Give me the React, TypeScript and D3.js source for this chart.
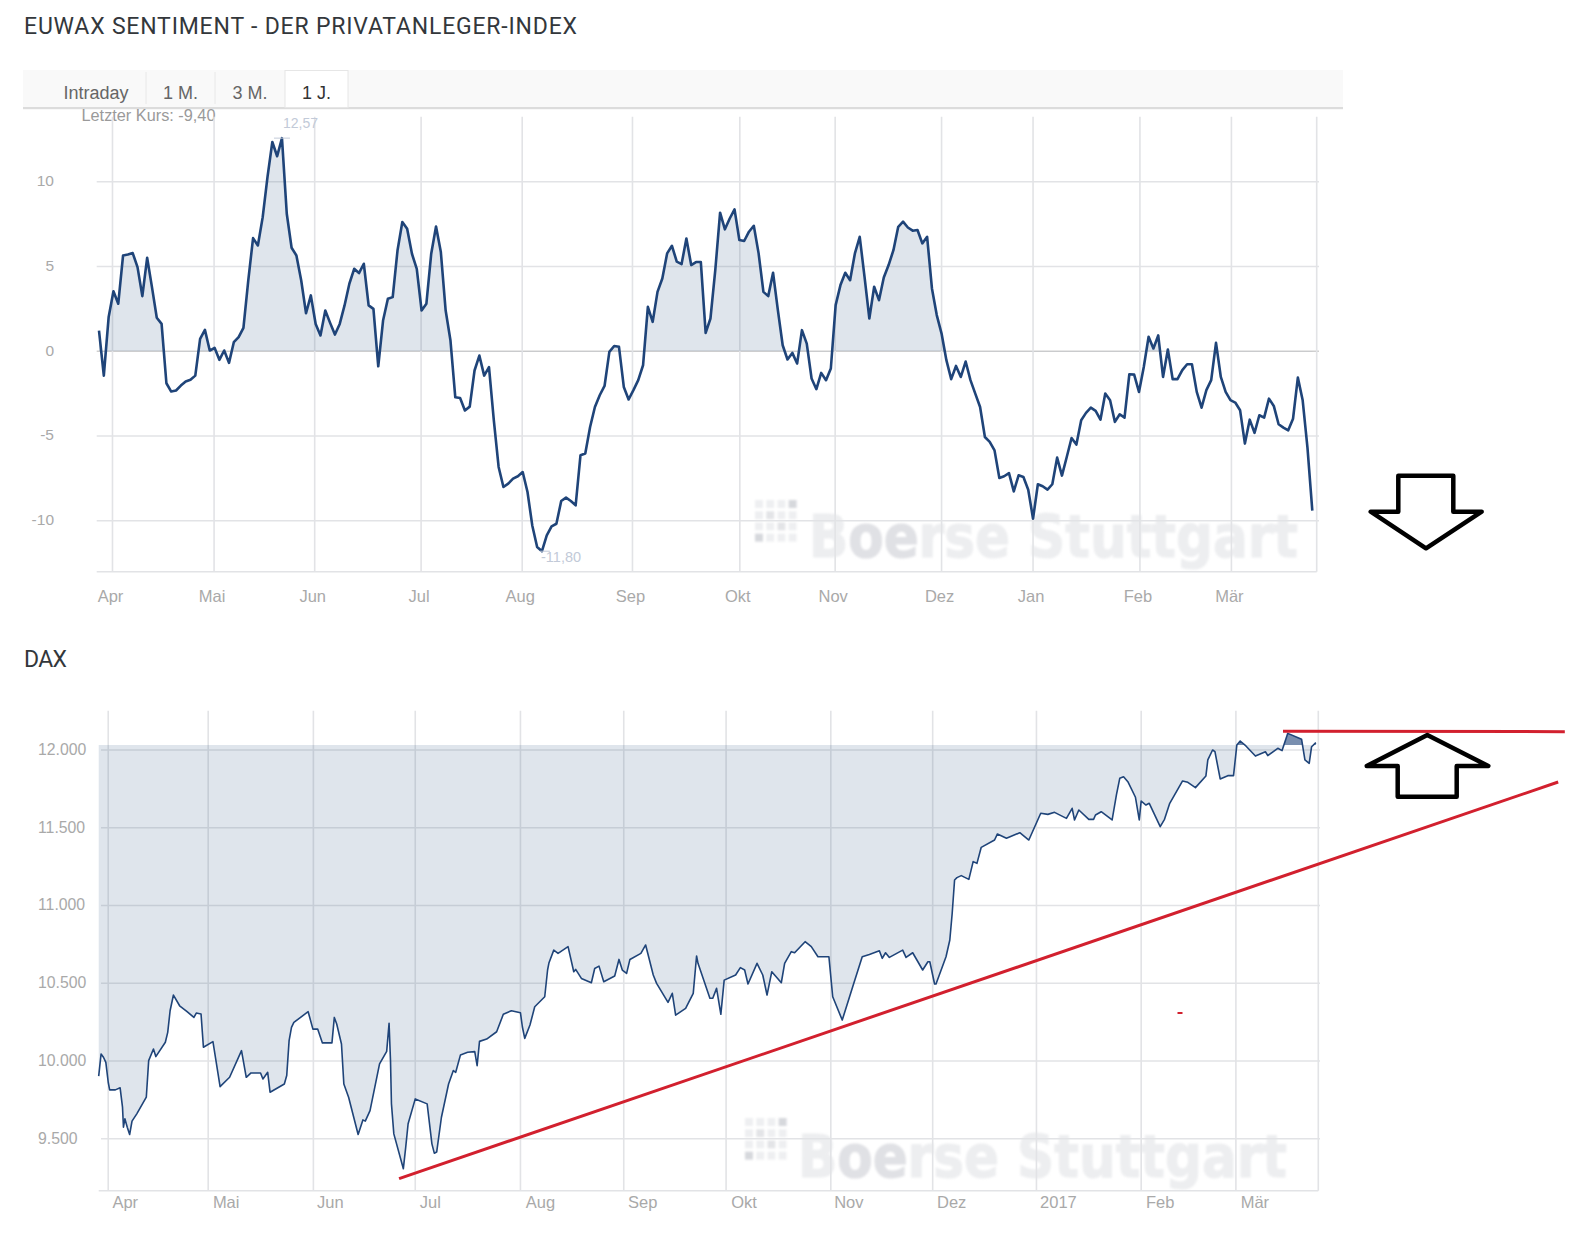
import React from "react";
import * as d3 from "d3";

// ---------- EUWAX Sentiment: one value per trading day ----------
const sentimentValues = [
  1.22,-1.44,2.0,3.54,2.8,5.65,5.7,5.79,4.96,3.25,5.51,3.78,1.97,1.61,-1.89,-2.38,-2.32,-2.03,-1.79,-1.69,
  -1.44,0.73,1.26,0.04,0.2,-0.51,0.04,-0.69,0.53,0.83,1.38,4.17,6.67,6.24,7.91,10.28,12.34,11.5,12.57,8.11,
  6.1,5.65,4.17,2.24,3.29,1.61,0.93,2.4,1.67,0.98,1.61,2.7,3.98,4.86,4.61,5.16,2.7,2.5,-0.89,1.81,
  3.09,3.19,5.94,7.62,7.22,5.75,4.86,2.4,2.8,5.75,7.36,5.85,2.4,0.63,-2.72,-2.76,-3.5,-3.27,-1.14,-0.26,
  -1.44,-0.94,
  -4.07,-6.83,-8.01,-7.81,-7.52,-7.38,-7.13,-8.31,-10.3,-11.55,-11.8,-10.87,-10.33,-10.18,-8.84,-8.64,-8.84,-9.09,
  -6.14,-6.04,-4.47,-3.29,-2.6,-2.05,-0.04,0.31,0.26,-2.11,-2.85,-2.3,-1.71,-0.83,2.62,1.73,3.5,4.29,5.77,6.22,
  5.28,5.14,6.65,5.08,5.26,5.26,1.08,1.93,4.78,8.17,7.19,7.83,8.37,6.56,6.5,7.05,7.4,5.77,3.5,3.25,
  4.63,2.42,0.35,-0.49,-0.1,-0.73,1.24,0.45,-1.61,-2.24,-1.28,-1.71,-1.02,2.72,3.9,4.63,4.19,5.77,6.75,4.39,
  1.93,3.8,3.01,
  4.35,5.08,5.96,7.34,7.64,7.3,7.11,7.15,6.36,6.75,3.7,2.13,1.04,-0.53,-1.65,-0.87,-1.52,-0.61,-1.71,-2.5,
  -3.29,-5.06,-5.35,-5.85,-7.48,-7.38,-7.19,-8.27,-7.32,-7.42,-8.17,-9.88,-7.85,-7.97,-8.17,-7.85,-6.28,-7.34,-6.24,-5.12,
  -5.51,-4.07,-3.64,-3.33,-3.52,-4.04,-2.5,-2.89,-4.17,-3.72,-3.92,-1.36,-1.38,-2.4,-0.93,0.85,0.16,0.93,-1.52,0.1,
  -1.65,-1.65,-1.12,-0.77,-0.77,-2.4,-3.33,-2.3,-1.71,0.49,-1.52,-2.4,-2.89,-3.03,-3.48,-5.45,-4.04,-4.82,-3.78,-3.92,
  -2.8,-3.23,-4.31,-4.51,-4.67,-3.98,-1.56,-2.9,-5.7,-9.4,
];
const sentimentMonthLabels = ["Apr","Mai","Jun","Jul","Aug","Sep","Okt","Nov","Dez","Jan","Feb","Mär"];
const sentimentMonthDays = [2.8,23.9,44.8,66.9,87.9,110.8,133.1,152.9,175,194,216.2,235.2];
const sentimentTicks = [10,5,0,-5,-10];

// ---------- DAX: trading-day position and close ----------
const daxDays = [
  0,0.5,1,1.5,2,2.3,3.5,4.5,5,5.2,5.5,6,6.5,7,8,10,10.5,11.5,12,14,14.5,15,15.7,17,18.5,20,20.5,21.5,22,24,25.5,27.5,30,31,32,34,34.5,35.5,36,39,39.5,40,40.5,41,44,45,46,47,49,49.5,50,51,51.5,52.5,54.5,55.5,56,57,59,60.5,61,61.3,61.5,62,64,64.5,65,66.5,69,70,70.5,71,72,73.5,74.5,75,76,77.5,79,79.5,80,81.5,83.6,
  85,86.7,88.6,89,89.5,90.6,91.6,93.7,94.3,94.6,95.6,96.5,98.6,99.8,100.2,101.4,103.5,104.2,105.1,106.1,108.4,109.3,110,110.9,111.6,113.9,114.9,116.5,117.2,119.6,120.5,121.2,123.3,124.9,125.6,125.9,128.4,129,129.8,130.7,131.4,133.8,134.8,135.7,136.4,138.3,139.5,140.4,141.4,143.4,144.1,145.5,146.2,148.4,149.7,151.1,153.4,154.2,156.2,158.4,160.4,161.9,164,164.6,165.3,166.1,168.9,169.6,171,173.1,174.2,174.6,175.6,175.9,178,178.8,179.3,
  179.8,180.3,181.2,182.8,183.7,184.5,185.4,188.2,188.8,190.7,193.5,195.4,197.9,199.4,200.8,203.3,204.5,205,205.9,208,209,209.4,210.6,212.9,213.8,214.5,215.3,216.2,217.8,218.6,219,220,220.7,223,223.9,225,227.7,228.8,230.4,232.6,233,234,234.5,235.6,237.2,238.4,239.1,239.8,241,243,245.1,245.6,247.7,248.6,249.8,
  252.7,253.4,254.3,254.8,255.7,
];
const daxValues = [
  9902,10045,10024,9991,9863,9814,9814,9827,9703,9574,9628,9574,9527,9613,9660,9767,10002,10077,10028,10120,10184,10323,10424,10355,10319,10280,10308,10302,10088,10124,9835,9895,10066,9895,9923,9923,9884,9927,9799,9852,9906,10131,10216,10248,10317,10205,10205,10116,10116,10280,10238,10109,9852,9767,9527,9621,9613,9681,9981,10062,10242,10002,9724,9531,9307,9446,9596,9756,9724,9467,9407,9414,9638,9852,9938,9927,10039,10056,10060,9970,10126,10141,10188,
  10300,10323,10310,10220,10145,10231,10349,10413,10585,10632,10713,10692,10735,10574,10589,10531,10503,10595,10610,10510,10546,10653,10585,10563,10653,10692,10746,10553,10499,10377,10435,10295,10338,10435,10675,10628,10403,10403,10467,10300,10520,10553,10600,10585,10495,10628,10553,10424,10574,10503,10628,10703,10696,10767,10735,10670,10670,10413,10263,10478,10670,10685,10709,10660,10696,10666,10713,10666,10696,10585,10638,10638,10495,10495,10670,10778,10950,
  11164,11179,11192,11168,11282,11271,11374,11421,11460,11432,11468,11421,11593,11586,11599,11560,11625,11550,11614,11554,11554,11582,11603,11550,11711,11818,11828,11796,11696,11550,11672,11646,11657,11507,11554,11657,11801,11792,11758,11833,11936,12000,11989,11814,11835,11835,12032,12058,12026,11961,11989,11964,12011,11996,12107,
  12069,11936,11914,12021,12047,
];
const daxMonthLabels = ["Apr","Mai","Jun","Jul","Aug","Sep","Okt","Nov","Dez","2017","Feb","Mär"];
const daxMonthDays = [2,23,45.1,66.5,88.6,110.3,131.8,153.8,175.2,197,219,238.9];
const daxLabelOffsets = [17,18,17,15,20,19,18,18,19,22,19,19];
const daxTicks = [12000,11500,11000,10500,10000,9500];
const daxThreshold = 12032;
const trendDays = [63.1,306.6];
const trendValues = [9243,11794];
const resistanceDays = [248.8,308];
const resistanceValues = [12120,12118];

const tabs = ["Intraday","1 M.","3 M.","1 J."];

const lineColor = "#1f4479";
const gridColor = "#e2e3e6";
const labelColor = "#a9a9a9";
const sans = "'Liberation Sans', Arial, sans-serif";
const red = "#d2202e";

const dotShades = [
  [0,0,0,2],
  [0,1,0,0],
  [0,0,1,0],
  [2,0,0,0],
];

function Watermark({ id, dotX, dotY, textX, baseline }: any) {
  const shade = ["#eeeff1", "#e3e4e7", "#d6d8dc"];
  const w = 489;
  const light = "#edeef0";
  const dark = "#e0e1e5";
  return (
    <g style={{ filter: "blur(0.8px)" }}>
      <linearGradient id={id} gradientUnits="userSpaceOnUse" x1={textX} x2={textX + w} y1={0} y2={0}>
        <stop offset={0.08} stopColor={light} />
        <stop offset={0.08} stopColor={dark} />
        <stop offset={0.233} stopColor={dark} />
        <stop offset={0.233} stopColor={light} />
      </linearGradient>
      {dotShades.map((row, r) =>
        row.map((s, c) => (
          <rect key={r + "-" + c} x={dotX + c * 11.2} y={dotY + r * 11.2} width={8} height={8} fill={shade[s]} />
        ))
      )}
      <text x={textX} y={baseline} fontFamily="'DejaVu Sans'" fontWeight={700} fontSize={58}
        textLength={w} lengthAdjust="spacingAndGlyphs" fill={`url(#${id})`} stroke={`url(#${id})`} strokeWidth={1.2}>
        Boerse Stuttgart
      </text>
    </g>
  );
}

export default function App() {
  // ---- upper chart ----
  const n = sentimentValues.length;
  const x1 = d3.scaleLinear().domain([0, n - 1]).range([99, 1312.3]);
  const y1 = d3.scaleLinear().domain([-10, 10]).range([520.7, 181.7]);
  const line1 = d3.line<number>().x((_, i) => x1(i)).y((v) => y1(v));
  const area1 = d3.area<number>().x((_, i) => x1(i)).y0(y1(0)).y1((v) => y1(v));
  const top1 = 116.7, bottom1 = 571.7, right1 = 1316.7;

  // ---- lower chart ----
  const x2 = d3.scaleLinear().domain([0, 256]).range([98.7, 1317.3]);
  const y2 = d3.scaleLinear().domain([9500, 12000]).range([1138.7, 750]);
  const pts2 = daxDays.map((d, i) => [d, daxValues[i]] as [number, number]);
  const line2 = d3.line<[number, number]>().x((p) => x2(p[0])).y((p) => y2(p[1]));
  const area2 = d3.area<[number, number]>().x((p) => x2(p[0])).y0(y2(daxThreshold)).y1((p) => y2(p[1]));
  const top2 = 710.7, bottom2 = 1190.7, right2 = 1318.3;
  const trend = d3.line<number>().x((d) => x2(d)).y((_, i) => y2(trendValues[i]));
  const resist = d3.line<number>().x((d) => x2(d)).y((_, i) => y2(resistanceValues[i]));

  const tabX = [96, 180.5, 250, 316.5];
  const maxI = sentimentValues.indexOf(d3.max(sentimentValues) as number);
  const minI = sentimentValues.indexOf(d3.min(sentimentValues) as number);

  return (
    <svg width={1595} height={1254} style={{ position: "absolute", left: 0, top: 0, background: "#fff" }}>
      <defs>
        <clipPath id="above0"><rect x={0} y={0} width={1595} height={y1(0)} /></clipPath>
        <clipPath id="belowT"><rect x={0} y={y2(daxThreshold)} width={1595} height={600} /></clipPath>
        <clipPath id="aboveT"><rect x={0} y={0} width={1595} height={y2(daxThreshold)} /></clipPath>
      </defs>

      {/* header */}
      <text x={24} y={33.5} fontFamily="Roboto" fontSize={23} fill="#33373b" textLength={553} lengthAdjust="spacing">
        EUWAX SENTIMENT - DER PRIVATANLEGER-INDEX
      </text>
      <rect x={23} y={70} width={1320} height={37} fill="#f9f9f9" />
      <rect x={23} y={107} width={1320} height={2.2} fill="#dcdcdc" />
      <line x1={146} x2={146} y1={72} y2={104} stroke="#e8e8e8" />
      <line x1={215} x2={215} y1={72} y2={104} stroke="#e8e8e8" />
      <rect x={285} y={70.5} width={63} height={37} fill="#fff" stroke="#e6e6e6" />
      {tabs.map((t, i) => (
        <text key={t} x={tabX[i]} y={99} textAnchor="middle" fontFamily={sans} fontSize={18}
          fill={i === 3 ? "#333" : "#666"}>{t}</text>
      ))}
      <text x={81.5} y={120.5} fontFamily={sans} fontSize={16.3} fill="#9a9a9a">Letzter Kurs: -9,40</text>

      {/* upper chart */}
      <Watermark id="wm1" dotX={755} dotY={500} textX={809} baseline={557} />
      {sentimentTicks.map((t) => (
        <line key={t} x1={96.7} x2={1319} y1={y1(t)} y2={y1(t)} stroke={t === 0 ? "#cfcfcf" : gridColor} strokeWidth={1.6} />
      ))}
      {sentimentMonthDays.map((d) => (
        <line key={d} x1={x1(d)} x2={x1(d)} y1={top1} y2={bottom1} stroke={gridColor} strokeWidth={1.6} />
      ))}
      <line x1={right1} x2={right1} y1={top1} y2={bottom1} stroke={gridColor} strokeWidth={1.6} />
      <line x1={96.7} x2={right1} y1={bottom1} y2={bottom1} stroke={gridColor} strokeWidth={1.6} />
      <path d={area1(sentimentValues) as string} fill={lineColor} fillOpacity={0.14} clipPath="url(#above0)" />
      <path d={line1(sentimentValues) as string} fill="none" stroke={lineColor} strokeWidth={2.6} strokeLinejoin="round" />
      {sentimentTicks.map((t) => (
        <text key={t} x={54} y={y1(t) + 4.5} textAnchor="end" fontFamily={sans} fontSize={15.5} fill={labelColor}>{t}</text>
      ))}
      {sentimentMonthLabels.map((m, i) => (
        <text key={m} x={x1(sentimentMonthDays[i]) - 2} y={602} textAnchor="middle" fontFamily={sans} fontSize={16.5} fill={labelColor}>{m}</text>
      ))}
      <line x1={x1(maxI) - 8} x2={x1(maxI) + 8} y1={y1(sentimentValues[maxI])} y2={y1(sentimentValues[maxI])} stroke="#c2cad8" />
      <text x={283} y={128} fontFamily={sans} fontSize={14} fill="#c2cad8">12,57</text>
      <line x1={x1(minI) - 2} x2={x1(minI) + 8} y1={y1(sentimentValues[minI])} y2={y1(sentimentValues[minI])} stroke="#c2cad8" />
      <text x={541} y={562} fontFamily={sans} fontSize={14.5} fill="#c2cad8">-11,80</text>

      {/* lower chart */}
      <text x={24} y={667} fontFamily="Roboto" fontSize={23} fill="#33373b" textLength={43} lengthAdjust="spacing">DAX</text>
      <Watermark id="wm2" dotX={745} dotY={1118} textX={798} baseline={1177} />
      {daxTicks.map((t) => (
        <line key={t} x1={101} x2={1320} y1={y2(t)} y2={y2(t)} stroke={gridColor} strokeWidth={1.6} />
      ))}
      {daxMonthDays.map((d) => (
        <line key={d} x1={x2(d)} x2={x2(d)} y1={top2} y2={bottom2} stroke={gridColor} strokeWidth={1.6} />
      ))}
      <line x1={right2} x2={right2} y1={top2} y2={bottom2} stroke={gridColor} strokeWidth={1.6} />
      <line x1={98.7} x2={right2} y1={bottom2} y2={bottom2} stroke={gridColor} strokeWidth={1.6} />
      <path d={area2(pts2) as string} fill={lineColor} fillOpacity={0.14} clipPath="url(#belowT)" />
      <path d={area2(pts2) as string} fill={lineColor} fillOpacity={0.6} clipPath="url(#aboveT)" />
      <path d={line2(pts2) as string} fill="none" stroke={lineColor} strokeWidth={1.6} strokeLinejoin="round" />
      {daxTicks.map((t) => (
        <text key={t} x={38} y={y2(t) + 5} fontFamily={sans} fontSize={15.8} fill={labelColor}>
          {d3.format(",")(t).replace(",", ".")}
        </text>
      ))}
      {daxMonthLabels.map((m, i) => (
        <text key={m} x={x2(daxMonthDays[i]) + daxLabelOffsets[i]} y={1208} textAnchor="middle" fontFamily={sans} fontSize={16.5} fill={labelColor}>{m}</text>
      ))}

      {/* hand-drawn annotations */}
      <path d={trend(trendDays) as string} stroke={red} strokeWidth={3} fill="none" />
      <path d={resist(resistanceDays) as string} stroke={red} strokeWidth={3} fill="none" />
      <rect x={1177.5} y={1012} width={5} height={2} fill={red} />
      <polygon points="1398.3,475.7 1453.3,475.7 1453.3,511.7 1481.7,511.7 1426,548.3 1370.7,511.7 1398.3,511.7"
        fill="#fff" stroke="#000" strokeWidth={4.5} strokeLinejoin="round" />
      <polygon points="1427.3,735 1488.3,766 1456.7,766 1456.7,796.7 1397.7,796.7 1397.7,766 1366.7,766"
        fill="#fff" stroke="#000" strokeWidth={4.5} strokeLinejoin="round" />
    </svg>
  );
}
